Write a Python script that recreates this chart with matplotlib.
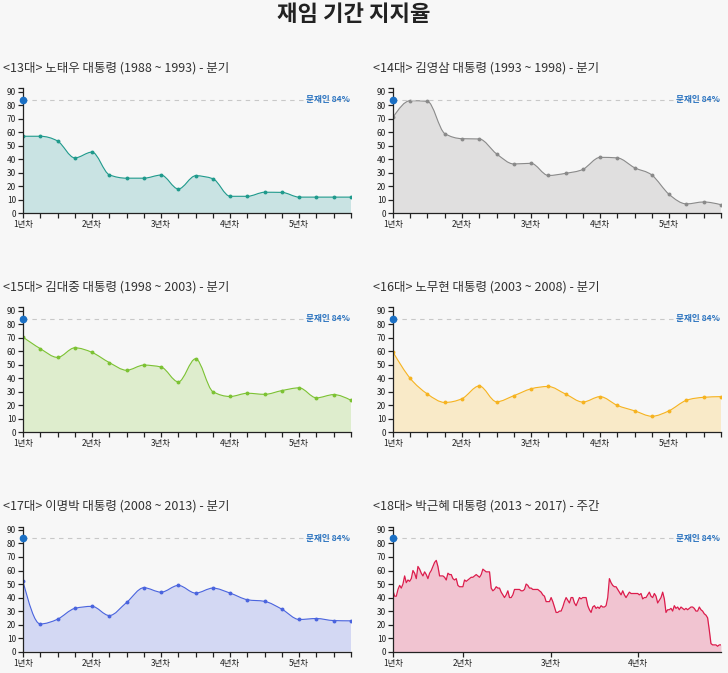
import numpy as np
import matplotlib.pyplot as plt
from matplotlib.path import Path
from matplotlib.patches import PathPatch

plt.rcParams['font.family'] = ['Noto Sans CJK KR', 'DejaVu Sans']

# quarterly approval ratings (%)
roh_tw = [57, 57, 53.5, 41, 45.3, 28.5, 26, 26, 28.3, 18, 27.8, 25.6, 12.6, 12.6, 15.6, 15.5, 12, 12, 12, 12]
kim_ys = [71, 83.3, 82.8, 59, 55.2, 55, 44, 36.5, 37, 28, 29.6, 32.5, 41.4, 41, 33.7, 28.3, 14, 7, 8.4, 6.4]
kim_dj = [70.5, 62, 55.5, 62.6, 59.2, 51.7, 46, 49.8, 48.4, 37.4, 54.5, 30.2, 26.6, 29, 28.2, 31, 33, 25.6, 28, 23.8]
roh_mh = [59.5, 40, 28.4, 22.2, 25, 34.4, 22.7, 27.2, 32.3, 34, 28.4, 22.5, 26.5, 20, 16, 12, 16.1, 23.8, 26, 26.5]
lee_mb = [52, 20.5, 24, 32, 33.5, 26.7, 36.4, 47.3, 44, 49, 43.3, 47, 43.3, 38.4, 37.2, 31.4, 23.8, 24.5, 23, 22.8]
# weekly approval ratings (%)
park_gh = [45, 41, 41, 46, 49, 47, 50, 56, 51, 53, 52, 54, 60, 58, 54, 63, 61, 58, 56, 59,
           57, 54, 58, 60, 63, 66, 67.5, 63, 56, 56, 56, 55, 53, 58, 57, 57, 54, 53, 54, 49,
           48, 48, 48, 53, 52, 53, 54, 55, 55, 56, 57, 56, 55, 57, 61, 60, 59, 59, 59, 47,
           45, 46, 48, 47, 47, 44, 42, 40, 42, 45, 40, 40, 42, 46, 46, 46, 46, 45, 45, 46,
           50, 49, 47, 47, 46, 46, 46, 46, 45, 44, 42, 41, 37, 37, 37, 40, 37, 33, 29, 29,
           30, 30, 33, 37, 40, 38, 36, 40, 40, 36, 34, 37, 40, 39, 40, 40, 40, 34, 31, 29,
           33, 34, 32, 33, 32, 34, 33, 33, 34, 40, 54, 51, 49, 48, 48, 46, 44, 42, 45, 42,
           40, 42, 44, 43, 43, 43, 43, 43, 42, 43, 39, 40, 40, 42, 44, 41, 40, 43, 41, 36,
           38, 40, 44, 39, 29, 31, 31, 32, 30, 34, 32, 33, 31, 33, 32, 31, 32, 31, 32, 33,
           33, 32, 30, 30, 33, 31, 30, 28, 27, 25, 16, 6, 5, 5, 5, 4, 5, 5]

titles = ["<13대> 노태우 대통령 (1988 ~ 1993) - 분기",
          "<14대> 김영삼 대통령 (1993 ~ 1998) - 분기",
          "<15대> 김대중 대통령 (1998 ~ 2003) - 분기",
          "<16대> 노무현 대통령 (2003 ~ 2008) - 분기",
          "<17대> 이명박 대통령 (2008 ~ 2013) - 분기",
          "<18대> 박근혜 대통령 (2013 ~ 2017) - 주간"]
series = [roh_tw, kim_ys, kim_dj, roh_mh, lee_mb, park_gh]
line_colors = ['#1f9a8c', '#8a8a8a', '#7cc233', '#f6b320', '#4a64de', '#dc1c4c']
fill_colors = ['#c9e3e3', '#e0dfdf', '#deedcd', '#f9eac8', '#d3d8f3', '#f1c4d1']
weekly = [False, False, False, False, False, True]

year_labels = ['1년차', '2년차', '3년차', '4년차', '5년차']
quarter_year_idx = [0, 4, 8, 12, 16]
week_year_idx = [0, 42, 95, 147]

moon = 84
ymax = moon * 1.1


def monotone(x, y):
    # same shape as d3.curveMonotoneX
    h = np.diff(x)
    s = np.diff(y) / h
    t = np.zeros(len(y))
    for i in range(1, len(y) - 1):
        p = (s[i - 1] * h[i] + s[i] * h[i - 1]) / (h[i - 1] + h[i])
        sg = (1 if s[i - 1] >= 0 else -1) + (1 if s[i] >= 0 else -1)
        t[i] = sg * min(abs(s[i - 1]), abs(s[i]), 0.5 * abs(p))
    t[0] = (3 * s[0] - t[1]) / 2
    t[-1] = (3 * s[-1] - t[-2]) / 2
    verts = [(x[0], y[0])]
    codes = [Path.MOVETO]
    for i in range(len(y) - 1):
        d = h[i] / 3
        verts += [(x[i] + d, y[i] + d * t[i]), (x[i + 1] - d, y[i + 1] - d * t[i + 1]), (x[i + 1], y[i + 1])]
        codes += [Path.CURVE4] * 3
    return verts, codes


fig = plt.figure(figsize=(7.28, 6.73), dpi=100, facecolor='#f7f7f7')
fig.text(0.486, 0.978, '재임 기간 지지율', ha='center', va='center', fontsize=16, fontweight='bold', color='#222')

lefts = [0.0316, 0.5398]
bottoms = [0.683, 0.3574, 0.0317]
w, hgt = 0.4505, 0.1857

for k in range(6):
    ax = fig.add_axes([lefts[k % 2], bottoms[k // 2], w, hgt])
    ax.set_facecolor('#f7f7f7')
    y = np.array(series[k], float)
    x = np.arange(len(y), dtype=float)

    if weekly[k]:
        ax.fill_between(x, 0, y, color=fill_colors[k], lw=0)
        ax.plot(x, y, color=line_colors[k], lw=0.9)
        ax.set_xticks(week_year_idx)
        ax.set_xticklabels(year_labels[:len(week_year_idx)])
    else:
        verts, codes = monotone(x, y)
        fv = verts + [(x[-1], 0), (x[0], 0), (x[0], 0)]
        fc = codes + [Path.LINETO, Path.LINETO, Path.CLOSEPOLY]
        ax.add_patch(PathPatch(Path(fv, fc), facecolor=fill_colors[k], lw=0))
        ax.add_patch(PathPatch(Path(verts, codes), facecolor='none', edgecolor=line_colors[k], lw=0.8))
        ax.plot(x, y, 'o', color=line_colors[k], ms=2.8, mew=0)
        ax.set_xticks(x)
        labels = [''] * len(x)
        for j, idx in enumerate(quarter_year_idx):
            labels[idx] = year_labels[j]
        ax.set_xticklabels(labels)

    # reference line
    ax.plot([x[0], x[-1]], [moon, moon], color='#c8c8c8', lw=0.8, dashes=(4, 4))
    ax.plot([x[0]], [moon], 'o', color='#1a6fc4', ms=4.5, clip_on=False, zorder=5)
    ax.text(x[-1] - 0.003 * (x[-1] - x[0]), moon, '문재인 84%', ha='right', va='center',
            fontsize=6.2, fontweight='bold', color='#2a73c0')

    ax.set_xlim(x[0], x[-1])
    ax.set_ylim(0, ymax)
    ax.set_yticks(np.arange(0, 100, 10))
    ax.set_yticks([ymax], minor=True)
    for side in ['top', 'right']:
        ax.spines[side].set_visible(False)
    for side in ['left', 'bottom']:
        ax.spines[side].set_color('#222')
        ax.spines[side].set_linewidth(0.9)
    ax.tick_params(axis='both', which='both', direction='out', length=3.5, width=0.9,
                   labelsize=6, colors='#222', pad=1.5)
    ax.tick_params(axis='y', which='minor', length=3.5)

    ax.text(-0.062, 1.165, titles[k], transform=ax.transAxes, ha='left', va='center',
            fontsize=9, color='#333')

fig.savefig('out.png', dpi=100, facecolor=fig.get_facecolor())
